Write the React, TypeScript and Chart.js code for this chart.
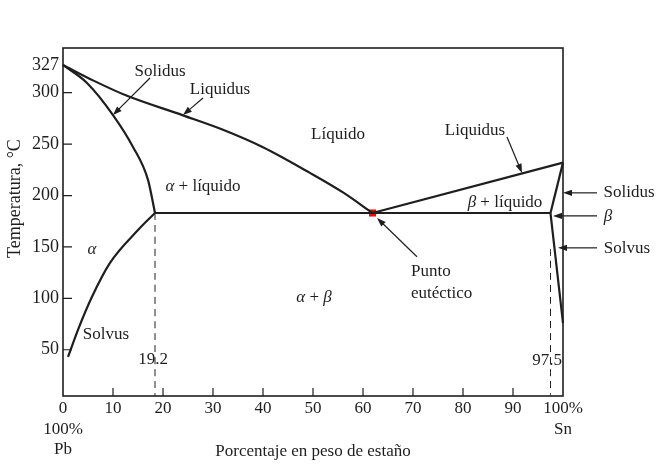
import React, { useEffect, useRef } from "react";
import { Chart, registerables } from "chart.js";
Chart.register(...registerables);

// ---- data (composition in wt% Sn, temperature in °C) ----
const liquidusLeftX = [0, 6, 12.8, 24, 32, 40, 49.4, 56, 61.9];
const liquidusLeftY = [327, 312, 297, 278, 264, 247, 222, 203, 183];
const solidusLeftX = [0, 4.8, 10, 14, 17, 18.4];
const solidusLeftY = [327, 309.5, 278.3, 247.3, 215.2, 183];
const solvusLeftX = [1, 3, 5.8, 9.4, 15, 18.4];
const solvusLeftY = [43, 69.4, 101.5, 134.5, 166.4, 183];
const eutecticLineX = [18.4, 97.5];
const eutecticLineY = [183, 183];
const liquidusRightX = [61.9, 100];
const liquidusRightY = [183, 232];
const solidusRightX = [97.5, 100];
const solidusRightY = [183, 232];
const solvusRightX = [97.5, 100];
const solvusRightY = [183, 76];
const dashLeftX = [18.4, 18.4];
const dashLeftY = [183, 5];
const dashRightX = [97.5, 97.5];
const dashRightY = [148, 5];
const eutecticPointX = [61.9];
const eutecticPointY = [183];

const yMin = 5;
const yMax = 343.5;
const yTickValues = [50, 100, 150, 200, 250, 300, 327];
const xTickValues = [0, 10, 20, 30, 40, 50, 60, 70, 80, 90, 100];
const xTickLabels: Record<number, string[]> = {
  0: ["0", "100%", "Pb"],
  100: ["100%", "Sn"],
};
const xTitle = "Porcentaje en peso de estaño";
const yTitle = "Temperatura, °C";

// ---- annotation texts (data coordinates) ----
type Part = { t: string; i?: boolean };
const labels: { x: number; y: number; parts: Part[]; align?: CanvasTextAlign }[] = [
  { x: 19.4, y: 320.5, parts: [{ t: "Solidus" }] },
  { x: 31.4, y: 302.8, parts: [{ t: "Liquidus" }] },
  { x: 55, y: 259, parts: [{ t: "Líquido" }] },
  { x: 28, y: 208.6, parts: [{ t: "α", i: true }, { t: " + líquido" }] },
  { x: 82.4, y: 262.8, parts: [{ t: "Liquidus" }] },
  { x: 88.4, y: 193.6, parts: [{ t: "β", i: true }, { t: " + líquido" }] },
  { x: 113.2, y: 202.6, parts: [{ t: "Solidus" }] },
  { x: 109, y: 179.4, parts: [{ t: "β", i: true }] },
  { x: 112.8, y: 148.1, parts: [{ t: "Solvus" }] },
  { x: 5.8, y: 147.3, parts: [{ t: "α", i: true }] },
  { x: 8.6, y: 64.8, parts: [{ t: "Solvus" }] },
  { x: 18, y: 40, parts: [{ t: "19.2" }] },
  { x: 96.8, y: 39.3, parts: [{ t: "97.5" }] },
  { x: 69.6, y: 125.8, parts: [{ t: "Punto" }], align: "left" },
  { x: 69.6, y: 104.4, parts: [{ t: "eutéctico" }], align: "left" },
  { x: 50.2, y: 100.5, parts: [{ t: "α", i: true }, { t: " + " }, { t: "β", i: true }] },
];
const arrows: number[][] = [
  [17.4, 314.3, 10, 278.3],
  [28, 294.8, 24, 278.3],
  [88.8, 257, 91.8, 222],
  [106.8, 202.6, 100, 202.6],
  [106.8, 180.2, 98, 180.2],
  [106.8, 149.1, 99, 149.1],
  [70.8, 140.4, 62.8, 178.2],
];

const FONT = "'Liberation Serif', 'DejaVu Serif', serif";
const INK = "#1e1e1e";

function pts(xs: number[], ys: number[]) {
  return xs.map((x, k) => ({ x, y: ys[k] }));
}

function curve(xs: number[], ys: number[], extra: any = {}) {
  return {
    data: pts(xs, ys),
    showLine: true,
    borderColor: INK,
    borderWidth: 2.2,
    pointRadius: 0,
    cubicInterpolationMode: "monotone",
    clip: false,
    ...extra,
  };
}

const decor = {
  id: "decor",
  beforeDatasetsDraw(chart: any) {
    const { ctx, scales } = chart;
    const xs = scales.x;
    const ys = scales.y;
    ctx.save();
    ctx.fillStyle = INK;
    ctx.strokeStyle = INK;
    ctx.textBaseline = "middle";
    for (const lb of labels) {
      const px = xs.getPixelForValue(lb.x);
      const py = ys.getPixelForValue(lb.y);
      const widths = lb.parts.map((p) => {
        ctx.font = `${p.i ? "italic " : ""}17px ${FONT}`;
        return ctx.measureText(p.t).width;
      });
      const total = widths.reduce((a, b) => a + b, 0);
      let cx = lb.align === "left" ? px : px - total / 2;
      ctx.textAlign = "left";
      lb.parts.forEach((p, k) => {
        ctx.font = `${p.i ? "italic " : ""}17px ${FONT}`;
        ctx.fillText(p.t, cx, py);
        cx += widths[k];
      });
    }
    ctx.lineWidth = 1.2;
    for (const a of arrows) {
      const x1 = xs.getPixelForValue(a[0]);
      const y1 = ys.getPixelForValue(a[1]);
      const x2 = xs.getPixelForValue(a[2]);
      const y2 = ys.getPixelForValue(a[3]);
      const ang = Math.atan2(y2 - y1, x2 - x1);
      const L = 9;
      const W = 3.2;
      ctx.beginPath();
      ctx.moveTo(x1, y1);
      ctx.lineTo(x2 - Math.cos(ang) * L * 0.8, y2 - Math.sin(ang) * L * 0.8);
      ctx.stroke();
      ctx.beginPath();
      ctx.moveTo(x2, y2);
      ctx.lineTo(
        x2 - Math.cos(ang) * L - Math.sin(ang) * W,
        y2 - Math.sin(ang) * L + Math.cos(ang) * W
      );
      ctx.lineTo(
        x2 - Math.cos(ang) * L + Math.sin(ang) * W,
        y2 - Math.sin(ang) * L - Math.cos(ang) * W
      );
      ctx.closePath();
      ctx.fill();
    }
    ctx.save();
    ctx.translate(15, ys.getPixelForValue(197));
    ctx.rotate(-Math.PI / 2);
    ctx.textAlign = "center";
    ctx.font = `18px ${FONT}`;
    ctx.fillText(yTitle, 0, 0);
    ctx.restore();
    ctx.restore();
  },
  afterDatasetsDraw(chart: any) {
    const { ctx, chartArea, scales } = chart;
    const { left, right, top, bottom } = chartArea;
    ctx.save();
    ctx.strokeStyle = INK;
    ctx.lineWidth = 1.6;
    ctx.strokeRect(left, top, right - left, bottom - top);
    ctx.lineWidth = 1.2;
    ctx.beginPath();
    for (const v of yTickValues) {
      if (v === 327) continue;
      const py = scales.y.getPixelForValue(v);
      ctx.moveTo(left, py);
      ctx.lineTo(left + 9, py);
    }
    for (const v of xTickValues) {
      if (v === 0 || v === 100) continue;
      const px = scales.x.getPixelForValue(v);
      ctx.moveTo(px, bottom);
      ctx.lineTo(px, bottom - 8);
    }
    ctx.stroke();
    ctx.restore();
  },
};

export default function App() {
  const ref = useRef<HTMLCanvasElement>(null);
  useEffect(() => {
    if (!ref.current) return;
    const chart = new Chart(ref.current, {
      type: "scatter",
      data: {
        datasets: [
          curve(liquidusLeftX, liquidusLeftY),
          curve(solidusLeftX, solidusLeftY),
          curve(solvusLeftX, solvusLeftY),
          curve(eutecticLineX, eutecticLineY),
          curve(liquidusRightX, liquidusRightY),
          curve(solidusRightX, solidusRightY),
          curve(solvusRightX, solvusRightY),
          curve(dashLeftX, dashLeftY, { borderWidth: 1, borderDash: [7, 5] }),
          curve(dashRightX, dashRightY, { borderWidth: 1, borderDash: [7, 5] }),
          {
            data: pts(eutecticPointX, eutecticPointY),
            pointStyle: "rect",
            pointRadius: 5,
            backgroundColor: "#ff0000",
            borderColor: "#ff0000",
            borderWidth: 0,
            clip: false,
          },
        ] as any,
      },
      options: {
        animation: false,
        responsive: false,
        devicePixelRatio: 1,
        layout: { padding: { top: 48, right: 98, left: 0, bottom: 0 } },
        plugins: { legend: { display: false }, tooltip: { enabled: false }, title: { display: false } },
        events: [],
        scales: {
          x: {
            type: "linear",
            min: 0,
            max: 100,
            grid: { display: false, drawTicks: false },
            border: { display: false },
            afterBuildTicks: (s: any) => {
              s.ticks = xTickValues.map((v) => ({ value: v }));
            },
            afterFit: (s: any) => {
              s.height = 68;
            },
            ticks: {
              autoSkip: false,
              maxRotation: 0,
              padding: 3,
              color: INK,
              font: { family: FONT, size: 17, lineHeight: 1.18 },
              callback: (v: any) => xTickLabels[v] ?? String(v),
            },
            title: {
              display: true,
              text: xTitle,
              color: INK,
              font: { family: FONT, size: 17 },
              padding: { top: 0, bottom: 2 },
            },
          },
          y: {
            type: "linear",
            min: yMin,
            max: yMax,
            grid: { display: false, drawTicks: false },
            border: { display: false },
            afterBuildTicks: (s: any) => {
              s.ticks = yTickValues.map((v) => ({ value: v }));
            },
            afterFit: (s: any) => {
              s.width = 63;
            },
            ticks: {
              padding: 4,
              color: INK,
              font: { family: FONT, size: 18 },
              callback: (v: any) => String(v),
            },
          },
        },
      } as any,
      plugins: [decor],
    });
    return () => chart.destroy();
  }, []);
  return (
    <div style={{ position: "fixed", left: 0, top: 0, width: 661, height: 464, background: "#fff" }}>
      <canvas ref={ref} width={661} height={464} />
    </div>
  );
}
